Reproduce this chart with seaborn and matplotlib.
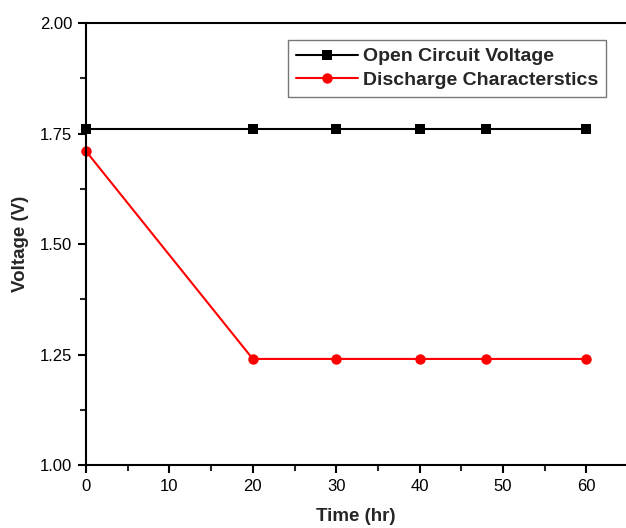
import numpy as np
import pandas as pd
import matplotlib
matplotlib.use("Agg")
import matplotlib.pyplot as plt
import seaborn as sns

time_hr = [0, 20, 30, 40, 48, 60]
open_circuit = [1.76, 1.76, 1.76, 1.76, 1.76, 1.76]
discharge = [1.71, 1.24, 1.24, 1.24, 1.24, 1.24]
series_names = ["Open Circuit Voltage", "Discharge Characterstics"]

sns.set_style("ticks")
plt.rcParams['font.family'] = ['Liberation Sans', 'DejaVu Sans']

df = pd.DataFrame({
    "Time": time_hr * 2,
    "Voltage": open_circuit + discharge,
    "Series": [series_names[0]] * len(time_hr) + [series_names[1]] * len(time_hr),
})

fig = plt.figure(figsize=(6.26, 5.28), dpi=100)
ax = fig.add_axes([0.1374, 0.1193, 0.8626, 0.8371])

palette = {series_names[0]: "black", series_names[1]: "red"}
markers = {series_names[0]: "s", series_names[1]: "o"}
sizes = {series_names[0]: 6.5, series_names[1]: 7.5}
for name in series_names:
    sub = df[df["Series"] == name]
    sns.lineplot(data=sub, x="Time", y="Voltage", color=palette[name],
                 marker=markers[name], markersize=sizes[name], linewidth=1.5,
                 markeredgewidth=0, ax=ax, clip_on=False, label=name)

ax.set_xlim(0, 64.75)
ax.set_ylim(1.0, 2.0)
ax.set_xticks([0, 10, 20, 30, 40, 50, 60])
ax.set_xticks([5, 15, 25, 35, 45, 55], minor=True)
ax.set_yticks([1.0, 1.25, 1.5, 1.75, 2.0])
ax.set_yticks([1.125, 1.375, 1.625, 1.875], minor=True)
ax.set_yticklabels(["1.00", "1.25", "1.50", "1.75", "2.00"])
ax.tick_params(axis="both", which="major", direction="out", length=6, width=1.5,
               labelsize=12, colors="black", pad=4)
ax.tick_params(axis="both", which="minor", direction="out", length=4, width=1.5)
for s in ["left", "bottom", "top"]:
    ax.spines[s].set_linewidth(1.5)
    ax.spines[s].set_color("black")
ax.spines["right"].set_visible(False)

ax.set_xlabel("Time (hr)", fontsize=13.5, fontweight="bold", labelpad=10)
ax.set_ylabel("Voltage (V)", fontsize=13.5, fontweight="bold", labelpad=8)

leg = ax.legend(loc="upper left", bbox_to_anchor=(0.374, 0.9615), frameon=True,
                fancybox=False, edgecolor="#555555", handlelength=3.2,
                prop={"weight": "bold", "size": 14}, borderpad=0.4,
                labelspacing=0.32, handletextpad=0.25, borderaxespad=0)
leg.get_frame().set_linewidth(1.0)

fig.savefig("out.png", dpi=100)
